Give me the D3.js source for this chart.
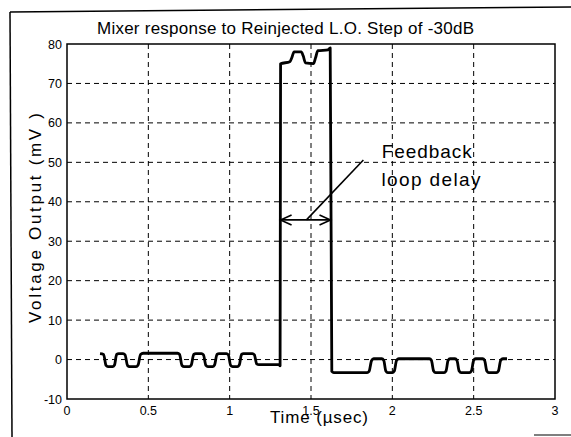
<!DOCTYPE html>
<meta charset="utf-8">
<style type="text/css">
    body { margin: 0; background: #fff; }
    svg { font-family: "Liberation Sans", Arial, sans-serif; }
    .grid line { stroke: #000; stroke-width: 1; stroke-dasharray: 5,4; }
    .frame { fill: none; stroke: #000; stroke-width: 1.5; }
    .signal { fill: none; stroke: #000; stroke-width: 2.8; stroke-linejoin: round; }
    .tick-label { font-size: 12.5px; fill: #000; }
    .note line, .note path { stroke: #000; stroke-width: 1.6; fill: none; }
</style>
<body>
</body>
<script src="https://cdn.jsdelivr.net/npm/d3@7"></script>
<script>

    // axis ticks
    var xTicks = [0, 0.5, 1, 1.5, 2, 2.5, 3];
    var xTickLabels = ["0", "0.5", "1", "1.5", "2", "2.5", "3"];
    var yTicks = [-10, 0, 10, 20, 30, 40, 50, 60, 70, 80];
    var yTickLabels = ["-10", "0", "10", "20", "30", "40", "50", "60", "70", "80"];

    // mixer output trace: time (usec) and voltage (mV)
    var sigT = [0.203, 0.225, 0.240, 0.252, 0.280, 0.292, 0.305, 0.318, 0.345, 0.357,
                0.372, 0.385, 0.425, 0.437, 0.452, 0.468, 0.680, 0.692, 0.707, 0.720,
                0.752, 0.764, 0.779, 0.792, 0.827, 0.839, 0.854, 0.866, 0.895, 0.907,
                0.922, 0.935, 0.980, 0.992, 1.006, 1.018, 1.047, 1.059, 1.073, 1.085,
                1.140, 1.152, 1.166, 1.180, 1.303, 1.310, 1.313, 1.370, 1.382, 1.396,
                1.440, 1.452, 1.466, 1.515, 1.528, 1.542, 1.605, 1.618, 1.628, 1.640,
                1.845, 1.857, 1.872, 1.885, 1.935, 1.947, 1.960, 1.972, 2.000, 2.012,
                2.026, 2.040, 2.228, 2.240, 2.254, 2.266, 2.318, 2.330, 2.343, 2.355,
                2.385, 2.397, 2.411, 2.423, 2.474, 2.486, 2.500, 2.512, 2.555, 2.567,
                2.581, 2.593, 2.640, 2.652, 2.666, 2.680, 2.705];
    var sigV = [1.5, 1.3, -1.5, -1.8, -1.8, -1.4, 1.3, 1.5, 1.5, 1.2,
                -1.5, -1.8, -1.8, -1.4, 1.3, 1.6, 1.6, 1.3, -1.5, -1.8,
                -1.8, -1.4, 1.3, 1.5, 1.5, 1.2, -1.5, -1.8, -1.8, -1.4,
                1.3, 1.5, 1.5, 1.2, -1.5, -1.8, -1.8, -1.4, 1.3, 1.5,
                1.5, 1.2, -1.1, -1.3, -1.3, -1.6, 75.0, 75.5, 76.5, 78.0,
                78.0, 77.0, 75.2, 75.0, 76.5, 78.3, 78.5, 79.0, -3.0, -3.3,
                -3.3, -3.0, -0.3, 0.2, 0.2, -0.2, -2.9, -3.3, -3.3, -2.9,
                -0.2, 0.2, 0.2, -0.2, -2.9, -3.3, -3.3, -2.9, -0.2, 0.2,
                0.2, -0.2, -2.9, -3.3, -3.3, -2.9, -0.2, 0.2, 0.2, -0.2,
                -2.9, -3.3, -3.3, -2.9, -0.2, 0.2, 0.2];

    // "Feedback loop delay" annotation
    var delayStart = 1.313, delayEnd = 1.620, delayLevel = 35.4;
    var leaderFrom = [1.472, 35.4], leaderTo = [1.822, 50.6];

    var margin = {top: 44, left: 67},
        width = 488,
        height = 355;

    var x = d3.scaleLinear().domain([0, 3]).range([0, width]);
    var y = d3.scaleLinear().domain([-10, 80]).range([height, 0]);

    var svg = d3.select("body").append("svg")
        .attr("width", 571)
        .attr("height", 437);

    // scanned page border
    svg.append("line").attr("x1", 10).attr("y1", 12).attr("x2", 571).attr("y2", 7)
        .attr("stroke", "#000").attr("stroke-width", 1.5);
    svg.append("line").attr("x1", 10).attr("y1", 12).attr("x2", 12).attr("y2", 437)
        .attr("stroke", "#000").attr("stroke-width", 1.5);
    svg.append("line").attr("x1", 534).attr("y1", 435).attr("x2", 571).attr("y2", 435)
        .attr("stroke", "#000").attr("stroke-width", 1.2);

    var g = svg.append("g")
        .attr("transform", "translate(" + margin.left + "," + margin.top + ")");

    // dashed grid
    var grid = g.append("g").attr("class", "grid");
    grid.selectAll(".vg")
        .data(xTicks.slice(1, -1))
        .enter().append("line")
        .attr("x1", function(d) { return x(d); })
        .attr("x2", function(d) { return x(d); })
        .attr("y1", 0).attr("y2", height);
    grid.selectAll(".hg")
        .data(yTicks.slice(1, -1))
        .enter().append("line")
        .attr("y1", function(d) { return y(d); })
        .attr("y2", function(d) { return y(d); })
        .attr("x1", 0).attr("x2", width);

    g.append("rect").attr("class", "frame")
        .attr("width", width).attr("height", height);

    // tick labels
    g.selectAll(".xl")
        .data(xTicks)
        .enter().append("text")
        .attr("class", "tick-label")
        .attr("x", function(d) { return x(d); })
        .attr("y", height + 16)
        .attr("text-anchor", "middle")
        .text(function(d, i) { return xTickLabels[i]; });
    g.selectAll(".yl")
        .data(yTicks)
        .enter().append("text")
        .attr("class", "tick-label")
        .attr("x", -5)
        .attr("y", function(d) { return y(d) + 4.5; })
        .attr("text-anchor", "end")
        .text(function(d, i) { return yTickLabels[i]; });

    // the trace
    var line = d3.line()
        .x(function(d) { return x(d[0]); })
        .y(function(d) { return y(d[1]); })
        .curve(d3.curveMonotoneX);

    g.append("path")
        .datum(sigT.map(function(t, i) { return [t, sigV[i]]; }))
        .attr("class", "signal")
        .attr("d", line);

    // annotation: double arrow + leader line
    var note = g.append("g").attr("class", "note");
    var ay = y(delayLevel), ax0 = x(delayStart), ax1 = x(delayEnd);
    note.append("line").attr("x1", ax0).attr("x2", ax1).attr("y1", ay).attr("y2", ay);
    note.append("path").attr("d", "M" + (ax0 + 11) + "," + (ay - 5) + "L" + ax0 + "," + ay + "L" + (ax0 + 11) + "," + (ay + 5));
    note.append("path").attr("d", "M" + (ax1 - 11) + "," + (ay - 5) + "L" + ax1 + "," + ay + "L" + (ax1 - 11) + "," + (ay + 5));
    note.append("line")
        .attr("x1", x(leaderFrom[0])).attr("y1", y(leaderFrom[1]))
        .attr("x2", x(leaderTo[0])).attr("y2", y(leaderTo[1]));

    g.append("text").attr("x", x(1.935)).attr("y", y(51.2))
        .attr("font-size", 19).attr("textLength", 90).attr("lengthAdjust", "spacing")
        .text("Feedback");
    g.append("text").attr("x", x(1.933)).attr("y", y(44.0))
        .attr("font-size", 19).attr("textLength", 99).attr("lengthAdjust", "spacing")
        .text("loop delay");

    // titles
    svg.append("text").attr("x", 97).attr("y", 34)
        .attr("font-size", 17).attr("textLength", 377).attr("lengthAdjust", "spacing")
        .text("Mixer response to Reinjected L.O. Step of -30dB");
    svg.append("text").attr("x", 270).attr("y", 423)
        .attr("font-size", 17).attr("textLength", 98).attr("lengthAdjust", "spacing")
        .text("Time (\u00b5sec)");
    svg.append("text")
        .attr("transform", "translate(41,218) rotate(-90)")
        .attr("text-anchor", "middle")
        .attr("font-size", 17).attr("textLength", 210).attr("lengthAdjust", "spacing")
        .text("Voltage Output (mV )");

</script>
